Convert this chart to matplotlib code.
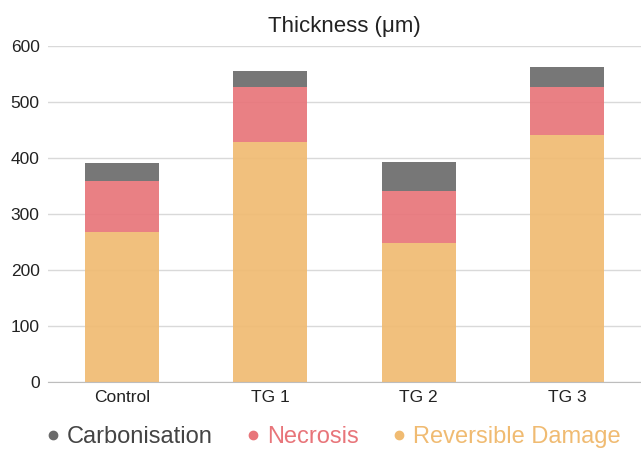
import matplotlib
matplotlib.use("Agg")
import matplotlib.pyplot as plt
from matplotlib.lines import Line2D
import numpy as np

plt.rcParams['font.family'] = ['Liberation Sans', 'DejaVu Sans']

categories = ["Control", "TG 1", "TG 2", "TG 3"]
reversible = [268, 429, 249, 441]
necrosis = [91, 97, 92, 85]
carbonisation = [32, 30, 51, 37]

c_carb = "#6b6b6b"
c_nec = "#e8757a"
c_rev = "#f0bb72"

fig = plt.figure(figsize=(6.41, 4.54), dpi=100)
ax = fig.add_axes([48/641, 72/454, 593/641, 336/454])
x = np.arange(len(categories))
w = 0.5
ax.bar(x, reversible, w, color=c_rev, alpha=0.92, zorder=2)
ax.bar(x, necrosis, w, bottom=reversible, color=c_nec, alpha=0.92, zorder=2)
bot2 = np.array(reversible) + np.array(necrosis)
ax.bar(x, carbonisation, w, bottom=bot2, color=c_carb, alpha=0.92, zorder=2)

ax.set_xlim(-0.5, 3.5)
ax.set_ylim(0, 600)
ax.set_yticks(range(0, 601, 100))
ax.yaxis.grid(True, color="#d9d9d9", linewidth=1, zorder=0)
ax.set_axisbelow(True)
for s in ["top", "right", "left"]:
    ax.spines[s].set_visible(False)
ax.spines["bottom"].set_color("#bdbdbd")
ax.tick_params(axis="both", length=0, labelsize=12.5, colors="#222222", pad=6)
ax.set_xticks(x)
ax.set_xticklabels(categories)
ax.set_title("Thickness (μm)", fontsize=16, color="#222222", pad=10)

handles = [Line2D([], [], marker="o", linestyle="", markersize=6, color=c) for c in (c_carb, c_nec, c_rev)]
labels = ["Carbonisation", "Necrosis", "Reversible Damage"]
leg = fig.legend(handles, labels, loc="center", bbox_to_anchor=(0.516, 17/454), ncol=3, frameon=False,
                 fontsize=17, handletextpad=0.1, columnspacing=1.2, handlelength=1)
for t, c in zip(leg.get_texts(), ("#444444", c_nec, c_rev)):
    t.set_color(c)

fig.savefig("out.png", dpi=100)
